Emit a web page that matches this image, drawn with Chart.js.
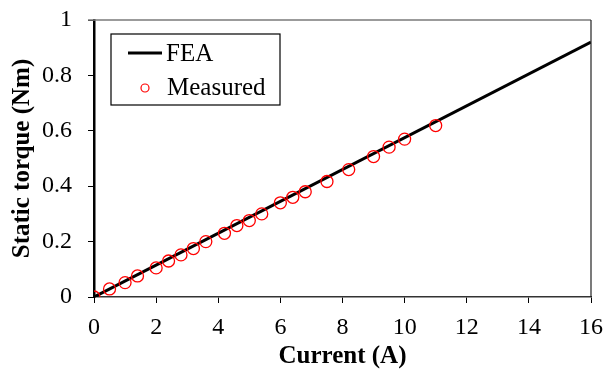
<!DOCTYPE html>
<html>
<head>
<meta charset="utf-8">
<script src="https://cdn.jsdelivr.net/npm/chart.js@4/dist/chart.umd.min.js"></script>
<style>
  html, body { margin: 0; padding: 0; background: #fff; }
  #wrap { width: 606px; height: 374px; position: relative; }
</style>
</head>
<body>
<div id="wrap"><canvas id="c" width="606" height="374"></canvas></div>
<script>
// Current (A) and static torque (Nm)
const feaCurrent = [0, 16];
const feaTorque = [0, 0.92];

const measuredCurrent = [0, 0.5, 1.0, 1.4, 2.0, 2.4, 2.8, 3.2, 3.6, 4.2, 4.6, 5.0, 5.4, 6.0, 6.4, 6.8, 7.5, 8.2, 9.0, 9.5, 10.0, 11.0];
const measuredTorque  = [0, 0.029, 0.052, 0.076, 0.105, 0.13, 0.152, 0.175, 0.2, 0.23, 0.258, 0.276, 0.3, 0.34, 0.36, 0.38, 0.417, 0.46, 0.507, 0.541, 0.57, 0.619];

const xTicks = [0, 2, 4, 6, 8, 10, 12, 14, 16];
const yTicks = [0, 0.2, 0.4, 0.6, 0.8, 1];

const serif = '"Liberation Serif", "Times New Roman", serif';

// Frame lines on the top and right of the plot area
const framePlugin = {
  id: 'frame',
  afterDatasetsDraw(chart) {
    const { ctx, chartArea: a } = chart;
    ctx.save();
    ctx.strokeStyle = '#7a7a7a';
    ctx.lineWidth = 1.5;
    ctx.beginPath();
    ctx.moveTo(a.left - 6, a.top);
    ctx.lineTo(a.right, a.top);
    ctx.stroke();
    ctx.strokeStyle = '#222';
    ctx.lineWidth = 1.2;
    ctx.beginPath();
    ctx.moveTo(a.right, a.top);
    ctx.lineTo(a.right, a.bottom);
    ctx.stroke();
    ctx.restore();
  }
};

// Boxed legend inside the upper-left corner of the plot
const boxLegend = {
  id: 'boxLegend',
  afterDraw(chart) {
    const { ctx, chartArea: a } = chart;
    const ds = chart.data.datasets;
    const x0 = a.left + 17, y0 = a.top + 14, w = 169, h = 71;
    ctx.save();
    ctx.fillStyle = '#fff';
    ctx.fillRect(x0, y0, w, h);
    ctx.strokeStyle = '#000';
    ctx.lineWidth = 1.2;
    ctx.strokeRect(x0, y0, w, h);
    ctx.font = '25px ' + serif;
    ctx.fillStyle = '#000';
    ctx.textBaseline = 'middle';
    // FEA line sample
    ctx.strokeStyle = ds[0].borderColor;
    ctx.lineWidth = ds[0].borderWidth;
    ctx.beginPath();
    ctx.moveTo(x0 + 17, y0 + 19);
    ctx.lineTo(x0 + 51, y0 + 19);
    ctx.stroke();
    ctx.fillText(ds[0].label, x0 + 55, y0 + 20);
    // Measured marker sample
    ctx.strokeStyle = ds[1].borderColor;
    ctx.lineWidth = 1.2;
    ctx.beginPath();
    ctx.arc(x0 + 34, y0 + 54, 4, 0, Math.PI * 2);
    ctx.stroke();
    ctx.fillText(ds[1].label, x0 + 56, y0 + 54);
    ctx.restore();
  }
};

new Chart(document.getElementById('c'), {
  type: 'scatter',
  data: {
    datasets: [
      {
        label: 'FEA',
        data: feaCurrent.map((x, i) => ({ x, y: feaTorque[i] })),
        showLine: true,
        borderColor: '#000',
        borderWidth: 3,
        pointRadius: 0,
        order: 2
      },
      {
        label: 'Measured',
        data: measuredCurrent.map((x, i) => ({ x, y: measuredTorque[i] })),
        showLine: false,
        borderColor: '#ff0000',
        backgroundColor: 'rgba(0,0,0,0)',
        pointRadius: 6,
        pointBorderWidth: 1.3,
        order: 1
      }
    ]
  },
  options: {
    responsive: false,
    animation: false,
    devicePixelRatio: 1,
    layout: { padding: { left: 0, right: 15, top: 20, bottom: 0 } },
    plugins: { legend: { display: false }, tooltip: { enabled: false } },
    scales: {
      x: {
        type: 'linear',
        min: 0, max: 16,
        afterBuildTicks(scale) { scale.ticks = xTicks.map(v => ({ value: v })); },
        afterFit(scale) {
          scale.height = 77;
          scale.paddingLeft = 0;
          scale.paddingRight = 0;
        },
        ticks: { color: '#000', font: { family: serif, size: 24 }, padding: 10, callback: v => String(v) },
        grid: { drawOnChartArea: false, color: '#000', tickLength: 6, lineWidth: 1 },
        border: { color: '#333', width: 1.5, dash: [8, 3] },
        title: { display: true, text: 'Current (A)', color: '#000', font: { family: serif, size: 25, weight: 'bold' }, padding: { top: 0, bottom: 2 } }
      },
      y: {
        type: 'linear',
        min: 0, max: 1,
        afterBuildTicks(scale) { scale.ticks = yTicks.map(v => ({ value: v })); },
        afterFit(scale) {
          scale.width = 94;
          scale.paddingTop = 0;
          scale.paddingBottom = 0;
        },
        ticks: { color: '#000', font: { family: serif, size: 24 }, padding: 16, callback: v => String(v) },
        grid: { drawOnChartArea: false, color: '#000', tickLength: 6, lineWidth: 1 },
        border: { color: '#000', width: 2.5 },
        title: { display: true, text: 'Static torque (Nm)', color: '#000', font: { family: serif, size: 25, weight: 'bold' }, padding: { top: 8, bottom: 0 } }
      }
    }
  },
  plugins: [framePlugin, boxLegend]
});
</script>
</body>
</html>
